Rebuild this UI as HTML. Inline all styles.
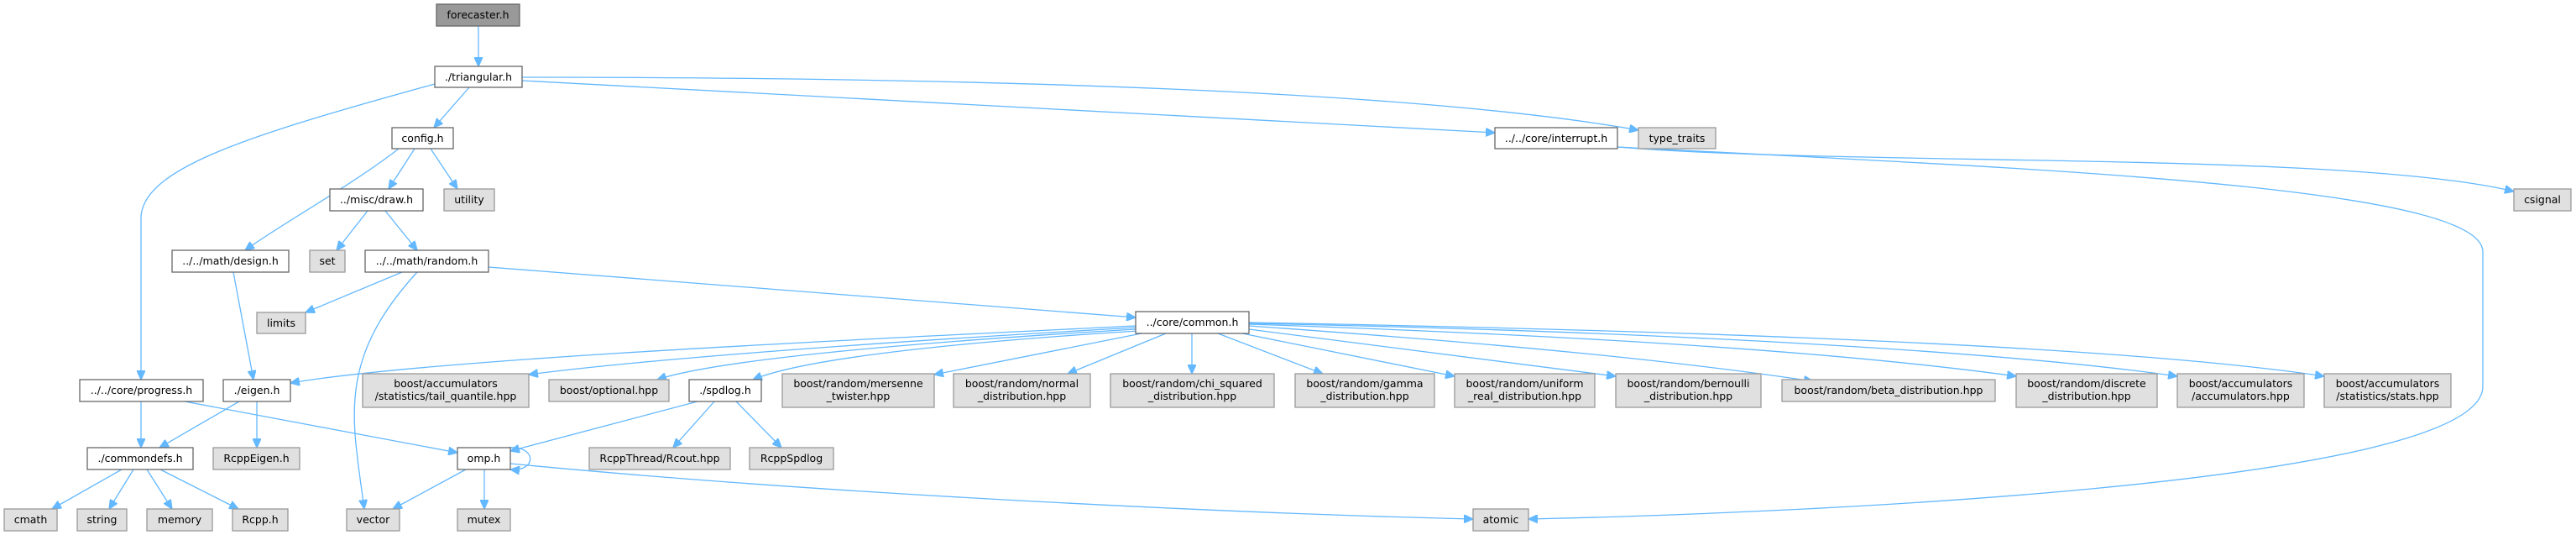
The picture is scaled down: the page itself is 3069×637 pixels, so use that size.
<!DOCTYPE html>
<html><head><meta charset="utf-8"><style>
html,body{margin:0;padding:0;background:#fff;}
svg{display:block;}
text{font-family:"DejaVu Sans","Liberation Sans",sans-serif;font-size:12.5px;fill:#000;text-anchor:middle;}
.w{fill:#fff;stroke:#666;stroke-width:1.3;}
.g{fill:#e0e0e0;stroke:#999;stroke-width:1.3;}
.d{fill:#999;stroke:#666;stroke-width:1.3;}
path{fill:none;stroke:#63b8ff;stroke-width:1.3;marker-end:url(#a);}
</style></head><body>
<svg width="3069" height="637" viewBox="0 0 3069 637" xmlns="http://www.w3.org/2000/svg">
<defs><marker id="a" markerUnits="userSpaceOnUse" markerWidth="12" markerHeight="10" refX="11" refY="5" orient="auto"><path d="M0,0 L11,5 L0,10 Z" style="fill:#63b8ff;stroke:#63b8ff;marker-end:none"/></marker></defs>

<!-- edges -->
<path d="M570,31 L570,79"/>
<path d="M559,104 L517,152"/>
<path d="M518,100 C300,160 168,200 168,260 L168,452"/>
<path d="M622,92 C1200,92 1700,110 1952,155"/>
<path d="M622,96 L1781,158"/>
<path d="M475,177 C420,220 330,270 292,298"/>
<path d="M494,177 L463,225"/>
<path d="M513,177 L545,225"/>
<path d="M438,251 L401,298"/>
<path d="M459,251 L497,298"/>
<path d="M278,324 L302,452"/>
<path d="M479,324 L364,372"/>
<path d="M497,324 C400,430 420,500 434,606"/>
<path d="M582,318 L1353,378"/>
<path d="M168,478 L168,533"/>
<path d="M220,478 L545,539"/>
<path d="M285,478 L190,533"/>
<path d="M306,478 L306,533"/>
<path d="M1353,388 C900,410 500,430 346,456"/>
<path d="M1353,390 C1000,410 750,430 630,446"/>
<path d="M1353,392 C1050,410 850,430 783,452"/>
<path d="M1356,394 C1100,410 950,430 897,452"/>
<path d="M1360,397 L1113,446"/>
<path d="M1389,397 L1272,445"/>
<path d="M1420,397 L1420,445"/>
<path d="M1451,397 L1576,445"/>
<path d="M1480,397 L1733,448"/>
<path d="M1488,392 L1925,448"/>
<path d="M1488,388 C1800,410 2000,430 2160,454"/>
<path d="M1488,386 C1900,400 2200,420 2402,448"/>
<path d="M1488,385 C2000,395 2400,420 2594,448"/>
<path d="M1488,384 C2100,395 2550,415 2769,448"/>
<path d="M831,478 L608,537"/>
<path d="M851,478 L802,533"/>
<path d="M877,478 L931,533"/>
<path d="M145,559 L62,606"/>
<path d="M159,559 L130,606"/>
<path d="M175,559 L205,606"/>
<path d="M191,559 L284,606"/>
<path d="M555,559 L468,606"/>
<path d="M577,559 L577,606"/>
<path d="M608,552 C1000,590 1500,612 1755,618"/>
<path d="M605,533 C640,530 640,562 608,559"/>
<path d="M1927,175 C2200,198 2800,180 2995,228"/>
<path d="M1927,175 C2400,200 2958,220 2958,300 L2958,460 C2958,580 2100,612 1821,618"/>

<!-- nodes -->
<rect class="d" x="520" y="5" width="99" height="26"/><text x="569.5" y="22">forecaster.h</text>
<rect class="w" x="518" y="79" width="104" height="25"/><text x="570" y="96">./triangular.h</text>
<rect class="w" x="467" y="152" width="73" height="25"/><text x="503.5" y="169">config.h</text>
<rect class="w" x="393" y="225" width="111" height="26"/><text x="448.5" y="242">../misc/draw.h</text>
<rect class="g" x="529" y="225" width="60" height="26"/><text x="559" y="242">utility</text>
<rect class="w" x="205" y="298" width="139" height="26"/><text x="274.5" y="315">../../math/design.h</text>
<rect class="g" x="369" y="298" width="42" height="26"/><text x="390" y="315">set</text>
<rect class="w" x="435" y="298" width="147" height="26"/><text x="508.5" y="315">../../math/random.h</text>
<rect class="w" x="1781" y="152" width="146" height="25"/><text x="1854" y="169">../../core/interrupt.h</text>
<rect class="g" x="1952" y="152" width="92" height="25"/><text x="1998" y="169">type_traits</text>
<rect class="g" x="2995" y="225" width="68" height="26"/><text x="3029" y="242">csignal</text>
<rect class="g" x="306" y="372" width="58" height="25"/><text x="335" y="389">limits</text>
<rect class="w" x="1353" y="371" width="135" height="26"/><text x="1420.5" y="388">../core/common.h</text>
<rect class="w" x="95" y="452" width="147" height="26"/><text x="168.5" y="469">../../core/progress.h</text>
<rect class="w" x="266" y="452" width="80" height="26"/><text x="306" y="469">./eigen.h</text>
<rect class="g" x="432" y="445" width="198" height="40"/><text x="531" y="461">boost/accumulators</text><text x="531" y="476">/statistics/tail_quantile.hpp</text>
<rect class="g" x="654" y="452" width="143" height="26"/><text x="725.5" y="469">boost/optional.hpp</text>
<rect class="w" x="821" y="452" width="86" height="26"/><text x="864" y="469">./spdlog.h</text>
<rect class="g" x="932" y="445" width="181" height="40"/><text x="1022.5" y="461">boost/random/mersenne</text><text x="1022.5" y="476">_twister.hpp</text>
<rect class="g" x="1136" y="445" width="163" height="40"/><text x="1217.5" y="461">boost/random/normal</text><text x="1217.5" y="476">_distribution.hpp</text>
<rect class="g" x="1323" y="445" width="195" height="40"/><text x="1420.5" y="461">boost/random/chi_squared</text><text x="1420.5" y="476">_distribution.hpp</text>
<rect class="g" x="1543" y="445" width="166" height="40"/><text x="1626" y="461">boost/random/gamma</text><text x="1626" y="476">_distribution.hpp</text>
<rect class="g" x="1733" y="445" width="167" height="40"/><text x="1816.5" y="461">boost/random/uniform</text><text x="1816.5" y="476">_real_distribution.hpp</text>
<rect class="g" x="1925" y="445" width="173" height="40"/><text x="2011.5" y="461">boost/random/bernoulli</text><text x="2011.5" y="476">_distribution.hpp</text>
<rect class="g" x="2123" y="452" width="254" height="26"/><text x="2250" y="469">boost/random/beta_distribution.hpp</text>
<rect class="g" x="2402" y="445" width="168" height="40"/><text x="2486" y="461">boost/random/discrete</text><text x="2486" y="476">_distribution.hpp</text>
<rect class="g" x="2594" y="445" width="151" height="40"/><text x="2669.5" y="461">boost/accumulators</text><text x="2669.5" y="476">/accumulators.hpp</text>
<rect class="g" x="2769" y="445" width="151" height="40"/><text x="2844.5" y="461">boost/accumulators</text><text x="2844.5" y="476">/statistics/stats.hpp</text>
<rect class="w" x="104" y="533" width="126" height="26"/><text x="167" y="550">./commondefs.h</text>
<rect class="g" x="254" y="533" width="103" height="26"/><text x="305.5" y="550">RcppEigen.h</text>
<rect class="w" x="545" y="533" width="63" height="26"/><text x="576.5" y="550">omp.h</text>
<rect class="g" x="702" y="533" width="168" height="26"/><text x="786" y="550">RcppThread/Rcout.hpp</text>
<rect class="g" x="893" y="533" width="100" height="26"/><text x="943" y="550">RcppSpdlog</text>
<rect class="g" x="5" y="606" width="63" height="26"/><text x="36.5" y="623">cmath</text>
<rect class="g" x="92" y="606" width="59" height="26"/><text x="121.5" y="623">string</text>
<rect class="g" x="175" y="606" width="78" height="26"/><text x="214" y="623">memory</text>
<rect class="g" x="277" y="606" width="66" height="26"/><text x="310" y="623">Rcpp.h</text>
<rect class="g" x="413" y="606" width="63" height="26"/><text x="444.5" y="623">vector</text>
<rect class="g" x="545" y="606" width="63" height="26"/><text x="576.5" y="623">mutex</text>
<rect class="g" x="1755" y="606" width="66" height="26"/><text x="1788" y="623">atomic</text>
</svg>
</body></html>
